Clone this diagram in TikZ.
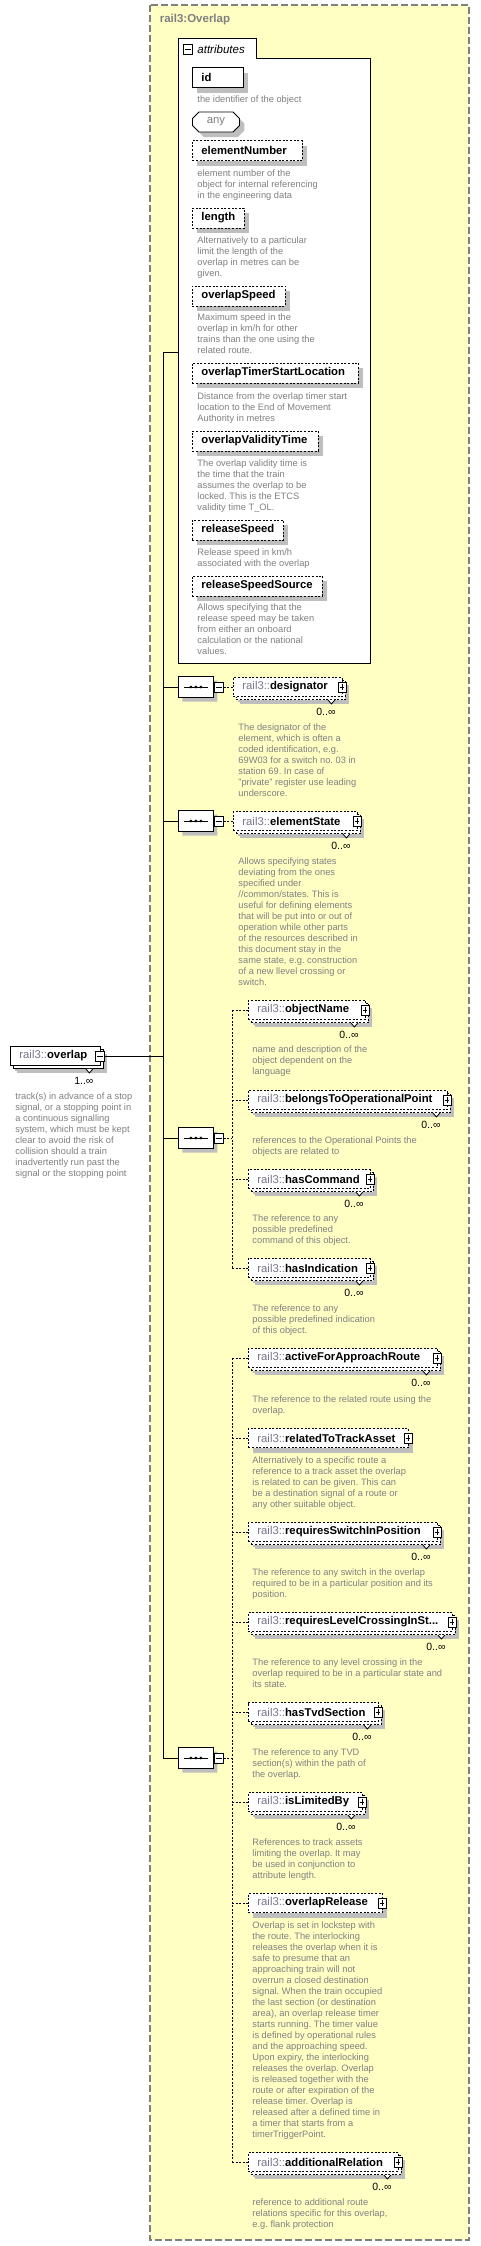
\documentclass[tikz,border=0pt]{standalone}
\usepackage{fontspec}
\setmainfont{Liberation Sans}
\usepackage{xcolor}
\usetikzlibrary{positioning,calc,shadows,shapes.misc}

\definecolor{typeyellow}{RGB}{255,255,196}
\definecolor{docgray}{RGB}{128,128,128}
\definecolor{nsgray}{RGB}{118,118,140}
\definecolor{shadegray}{RGB}{190,190,190}
\definecolor{framegray}{RGB}{128,128,128}

\newcommand{\pfx}{{\mdseries\color{nsgray}rail3::}}

\tikzset{
  optline/.style={dash pattern=on 2pt off 1.6pt},
  boxshadow/.style={general shadow={fill=shadegray, draw=none, shadow xshift=#1, shadow yshift=-#1}},
  attname/.style={draw, optline, fill=white, anchor=west, minimum height=20pt,
    text width=#1, align=left, inner xsep=9pt, inner ysep=0pt,
    font=\fontsize{11.3}{13}\selectfont\bfseries, boxshadow=5pt},
  anybox/.style={chamfered rectangle, chamfered rectangle xsep=3pt, draw, solid, fill=white,
    anchor=west, minimum width=47pt, minimum height=20pt, inner sep=0pt, text=docgray,
    font=\fontsize{11.3}{13}\selectfont, boxshadow=5pt},
  elname/.style={draw, optline, fill=white, anchor=west, minimum height=19pt,
    text width=#1, align=left, inner xsep=9pt, inner ysep=0pt,
    font=\fontsize{11.3}{13}\selectfont, boxshadow=5pt},
  many/.style={general shadow={fill=shadegray, draw=none, shadow xshift=7pt, shadow yshift=-7pt},
    general shadow={draw=black, #1, fill=white, shadow xshift=3pt, shadow yshift=-3pt}},
  many/.default=optline,
  plusbox/.style={draw, solid, fill=white, minimum width=8pt, minimum height=10pt, inner sep=0pt, line width=0.8pt,
    path picture={\draw[line width=0.8pt] ([xshift=1.6pt]path picture bounding box.west) -- ([xshift=-1.6pt]path picture bounding box.east);
      \draw[line width=0.8pt] ([yshift=-2pt]path picture bounding box.north) -- ([yshift=2pt]path picture bounding box.south);}},
  minusbox/.style={draw, solid, fill=white, minimum width=9pt, minimum height=10pt, inner sep=0pt, line width=0.8pt,
    path picture={\draw[line width=0.8pt] ([xshift=1.6pt]path picture bounding box.west) -- ([xshift=-1.6pt]path picture bounding box.east);}},
  seqbox/.style={chamfered rectangle, chamfered rectangle xsep=5pt, draw, solid, fill=white,
    minimum width=35pt, minimum height=21pt, inner sep=0pt, anchor=west, boxshadow=4pt},
  docnote/.style={anchor=north west, inner sep=0pt, align=left, text=docgray, font=\fontsize{9.3}{11}\selectfont},
  occ/.style={font=\fontsize{10.5}{12}\selectfont, inner sep=0pt}
}

\begin{document}
\frenchspacing
\hyphenpenalty=10000
\exhyphenpenalty=10000
\begin{tikzpicture}[x=1pt, y=-1pt, line width=0.9pt]
\useasboundingbox[fill=white] (0,0) rectangle (480,2246);

% the complex type
\draw[framegray, line width=1.3pt, dash pattern=on 7pt off 3pt, fill=typeyellow] (150,5) rectangle (469,2240);
\node[anchor=west, text=framegray, font=\fontsize{11.5}{13}\selectfont\bfseries] (typetitle) at (156,20) {rail3:Overlap};

% attributes group
\node[fill=white, minimum width=192pt, minimum height=605pt, anchor=north west, inner sep=0pt] (attr) at (178,58) {};
\node[fill=white, minimum width=78pt, minimum height=19pt, anchor=south west, inner sep=0pt] (attrtab) at (attr.north west) {};
\draw (attr.south west) -- (attrtab.north west) -- (attrtab.north east) -- (attrtab.south east) -- (attr.north east) -- (attr.south east) -- cycle;
\node[minusbox] (attrtab-m) at (188,49.5) {};
\node[anchor=west, inner sep=0pt, font=\fontsize{11.5}{13}\selectfont\itshape] (attrtitle) at (197,49) {attributes};

\node[attname=33pt, solid] (id) at (192,77.5) {id};
\node[anybox] (any) at (192,122) {any};
\node[attname=92pt] (elementNumber) at (192,150.5) {elementNumber};
\node[attname=34pt] (length) at (192,218) {length};
\node[attname=75pt] (overlapSpeed) at (192,296) {overlapSpeed};
\node[attname=148pt] (overlapTimerStartLocation) at (192,373) {overlapTimerStartLocation};
\node[attname=108pt] (overlapValidityTime) at (192,441) {overlapValidityTime};
\node[attname=73pt] (releaseSpeed) at (192,530) {releaseSpeed};
\node[attname=112pt] (releaseSpeedSource) at (192,586) {releaseSpeedSource};

\node[docnote] (id-doc) at (197,95.5) {the identifier of the object};
\node[docnote] (elementNumber-doc) at (197,169.5) {element number of the\\object for internal referencing\\in the engineering data};
\node[docnote] (length-doc) at (197,236.5) {Alternatively to a particular\\limit the length of the\\overlap in metres can be\\given.};
\node[docnote] (overlapSpeed-doc) at (197,313.5) {Maximum speed in the\\overlap in km/h for other\\trains than the one using the\\related route.};
\node[docnote] (overlapTimerStartLocation-doc) at (197,392.5) {Distance from the overlap timer start\\location to the End of Movement\\Authority in metres};
\node[docnote] (overlapValidityTime-doc) at (197,459.5) {The overlap validity time is\\the time that the train\\assumes the overlap to be\\locked. This is the ETCS\\validity time T\_OL.};
\node[docnote] (releaseSpeed-doc) at (197,548.5) {Release speed in km/h\\associated with the overlap};
\node[docnote] (releaseSpeedSource-doc) at (197,603.5) {Allows specifying that the\\release speed may be taken\\from either an onboard\\calculation or the national\\values.};

% sequences
\node[seqbox] (seqA) at (178,687) {};
\node[seqbox] (seqB) at (178,821) {};
\node[seqbox] (seqC) at (178,1138) {};
\node[seqbox] (seqD) at (178,1758) {};
\foreach \s in {seqA,seqB,seqC,seqD}{
  \draw ([xshift=6pt]\s.west) -- ([xshift=-6pt]\s.east);
  \foreach \d in {-5,0,5} \fill ($(\s.center)+(\d,0)$) circle (1.5pt);
  \node[minusbox, anchor=west] (\s-m) at (\s.east) {};
}

% child elements
\node[elname=91pt, many] (designator) at (233,687) {\pfx\textbf{designator}};
\node[elname=106pt, many] (elementState) at (233,821) {\pfx\textbf{elementState}};
\node[elname=99pt, many] (objectName) at (248,1010) {\pfx\textbf{objectName}};
\node[elname=181pt, many] (belongsToOperationalPoint) at (248,1100) {\pfx\textbf{belongsToOperationalPoint}};
\node[elname=104pt, many] (hasCommand) at (248,1179) {\pfx\textbf{hasCommand}};
\node[elname=104pt, many] (hasIndication) at (248,1268) {\pfx\textbf{hasIndication}};
\node[elname=171pt, many] (activeForApproachRoute) at (248,1358) {\pfx\textbf{activeForApproachRoute}};
\node[elname=142pt] (relatedToTrackAsset) at (248,1438) {\pfx\textbf{relatedToTrackAsset}};
\node[elname=171pt, many] (requiresSwitchInPosition) at (248,1532) {\pfx\textbf{requiresSwitchInPosition}};
\node[elname=186pt, many] (requiresLevelCrossing) at (248,1622) {\pfx\textbf{requiresLevelCrossingInSt...}};
\node[elname=112pt, many] (hasTvdSection) at (248,1712) {\pfx\textbf{hasTvdSection}};
\node[elname=96pt, many] (isLimitedBy) at (248,1802) {\pfx\textbf{isLimitedBy}};
\node[elname=116pt] (overlapRelease) at (248,1903) {\pfx\textbf{overlapRelease}};
\node[elname=132pt, many] (additionalRelation) at (248,2162) {\pfx\textbf{additionalRelation}};

\foreach \n in {designator,elementState,objectName,belongsToOperationalPoint,hasCommand,hasIndication,
  activeForApproachRoute,relatedToTrackAsset,requiresSwitchInPosition,requiresLevelCrossing,
  hasTvdSection,isLimitedBy,overlapRelease,additionalRelation}
  \node[plusbox] (\n-p) at ([xshift=-1pt]\n.east) {};

\foreach \n in {designator,elementState,objectName,belongsToOperationalPoint,hasCommand,hasIndication,
  activeForApproachRoute,requiresSwitchInPosition,requiresLevelCrossing,hasTvdSection,isLimitedBy,additionalRelation}{
  \draw[solid, line width=0.8pt, fill=white] ($(\n.south east)+(-15,3)$) -- ++(3.5,4) -- ++(3.5,-4);
  \node[occ] (\n-occ) at ($(\n.south east)+(-17,14.5)$) {0..∞};
}

\node[docnote] (designator-doc) at (238,723.5) {The designator of the\\element, which is often a\\coded identification, e.g.\\69W03 for a switch no. 03 in\\station 69. In case of\\"private" register use leading\\underscore.};
\node[docnote] (elementState-doc) at (238,857.5) {Allows specifying states\\deviating from the ones\\specified under\\//common/states. This is\\useful for defining elements\\that will be put into or out of\\operation while other parts\\of the resources described in\\this document stay in the\\same state, e.g. construction\\of a new llevel crossing or\\switch.};
\node[docnote] (objectName-doc) at (252,1045.5) {name and description of the\\object dependent on the\\language};
\node[docnote] (belongsToOperationalPoint-doc) at (252,1136.5) {references to the Operational Points the\\objects are related to};
\node[docnote] (hasCommand-doc) at (252,1214.5) {The reference to any\\possible predefined\\command of this object.};
\node[docnote] (hasIndication-doc) at (252,1304.5) {The reference to any\\possible predefined indication\\of this object.};
\node[docnote] (activeForApproachRoute-doc) at (252,1395.5) {The reference to the related route using the\\overlap.};
\node[docnote] (relatedToTrackAsset-doc) at (252,1456.5) {Alternatively to a specific route a\\reference to a track asset the overlap\\is related to can be given. This can\\be a destination signal of a route or\\any other suitable object.};
\node[docnote] (requiresSwitchInPosition-doc) at (252,1568.5) {The reference to any switch in the overlap\\required to be in a particular position and its\\position.};
\node[docnote] (requiresLevelCrossing-doc) at (252,1658.5) {The reference to any level crossing in the\\overlap required to be in a particular state and\\its state.};
\node[docnote] (hasTvdSection-doc) at (252,1748.5) {The reference to any TVD\\section(s) within the path of\\the overlap.};
\node[docnote] (isLimitedBy-doc) at (252,1838.5) {References to track assets\\limiting the overlap. It may\\be used in conjunction to\\attribute length.};
\node[docnote] (overlapRelease-doc) at (252,1921.5) {Overlap is set in lockstep with\\the route. The interlocking\\releases the overlap when it is\\safe to presume that an\\approaching train will not\\overrun a closed destination\\signal. When the train occupied\\the last section (or destination\\area), an overlap release timer\\starts running. The timer value\\is defined by operational rules\\and the approaching speed.\\Upon expiry, the interlocking\\releases the overlap. Overlap\\is released together with the\\route or after expiration of the\\release timer. Overlap is\\released after a defined time in\\a timer that starts from a\\timerTriggerPoint.};
\node[docnote] (additionalRelation-doc) at (252,2198.5) {reference to additional route\\relations specific for this overlap,\\e.g. flank protection};

% the element itself
\node[elname=72pt, solid, many=solid] (overlap) at (10,1056) {\pfx\textbf{overlap}};
\node[minusbox] (overlap-m) at ([xshift=-1pt]overlap.east) {};
\draw[solid, line width=0.8pt, fill=white] ($(overlap.south east)+(-15,3)$) -- ++(3.5,4) -- ++(3.5,-4);
\node[occ] (overlap-occ) at ($(overlap.south east)+(-17,14.5)$) {1..∞};
\node[docnote] (overlap-doc) at (15,1092.5) {track(s) in advance of a stop\\signal, or a stopping point in\\a continuous signalling\\system, which must be kept\\clear to avoid the risk of\\collision should a train\\inadvertently run past the\\signal or the stopping point};

% connectors
\coordinate (trunk) at (163,352);
\draw (attr.west |- trunk) -- (trunk) -- (trunk |- seqD.west) -- (seqD.west);
\foreach \s in {seqA,seqB,seqC} \draw (trunk |- \s.west) -- (\s.west);
\draw (overlap-m.east) -- (overlap-m.east -| trunk);

\draw[optline] (seqA-m.east) -- (designator.west);
\draw[optline] (seqB-m.east) -- (elementState.west);

\coordinate (busC) at (232,1138);
\draw[optline] (seqC-m.east) -- (busC);
\draw[optline] (busC |- objectName.west) -- (busC |- hasIndication.west);
\foreach \n in {objectName,belongsToOperationalPoint,hasCommand,hasIndication}
  \draw[optline] (busC |- \n.west) -- (\n.west);

\coordinate (busD) at (232,1758);
\draw[optline] (seqD-m.east) -- (busD);
\draw[optline] (busD |- activeForApproachRoute.west) -- (busD |- additionalRelation.west);
\foreach \n in {activeForApproachRoute,relatedToTrackAsset,requiresSwitchInPosition,requiresLevelCrossing,
  hasTvdSection,isLimitedBy,overlapRelease,additionalRelation}
  \draw[optline] (busD |- \n.west) -- (\n.west);
\end{tikzpicture}
\end{document}
